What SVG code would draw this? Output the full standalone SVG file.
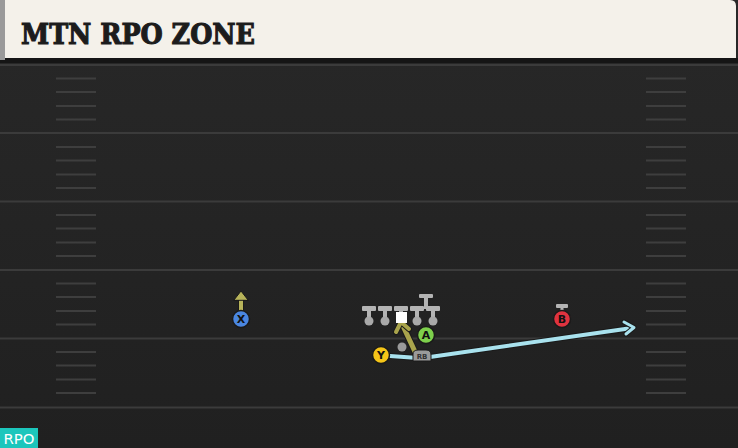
<svg xmlns="http://www.w3.org/2000/svg" width="738" height="448" viewBox="0 0 738 448">
<defs>
<style>
.yl{stroke:#3b3b3b;stroke-width:2}
.hs{stroke:#3e3e3e;stroke-width:2}
.ol{fill:#b4b4b4}
.lc{fill:#a9a9a9}
.lbl{font-family:"DejaVu Sans",sans-serif;font-weight:bold;font-size:11px;text-anchor:middle;fill:#111}
</style>
<linearGradient id="fld" x1="0" y1="0" x2="0" y2="1">
<stop offset="0" stop-color="#282828"/>
<stop offset="1" stop-color="#202020"/>
</linearGradient>
<g id="hashset">
<line class="hs" x1="0" y1="13.5" x2="40" y2="13.5"/>
<line class="hs" x1="0" y1="27" x2="40" y2="27"/>
<line class="hs" x1="0" y1="41" x2="40" y2="41"/>
<line class="hs" x1="0" y1="54.5" x2="40" y2="54.5"/>
</g>
</defs>
<rect width="738" height="448" fill="url(#fld)"/>
<g id="field">
<line class="yl" x1="0" y1="65" x2="738" y2="65"/>
<line class="yl" x1="0" y1="133" x2="738" y2="133"/>
<line class="yl" x1="0" y1="201.5" x2="738" y2="201.5"/>
<line class="yl" x1="0" y1="270" x2="738" y2="270"/>
<line class="yl" x1="0" y1="338.5" x2="738" y2="338.5"/>
<line class="yl" x1="0" y1="407.5" x2="738" y2="407.5"/>
<use href="#hashset" x="56" y="65"/><use href="#hashset" x="56" y="133.5"/><use href="#hashset" x="56" y="201.5"/><use href="#hashset" x="56" y="270"/><use href="#hashset" x="56" y="338.5"/>
<use href="#hashset" x="646" y="65"/><use href="#hashset" x="646" y="133.5"/><use href="#hashset" x="646" y="201.5"/><use href="#hashset" x="646" y="270"/><use href="#hashset" x="646" y="338.5"/>
</g>
<g id="header">
<rect x="0" y="58" width="738" height="5" fill="#151515"/>
<path d="M0 0H730Q736 0 736 6V58H0Z" fill="#f4f1ea"/>
<rect x="0" y="0" width="5" height="60" fill="#9a9a9a"/>
<text x="21" y="44" font-family="'DejaVu Serif',serif" font-weight="bold" font-size="27" textLength="234" lengthAdjust="spacingAndGlyphs" fill="#1c1c1c" stroke="#1c1c1c" stroke-width="1.1">MTN RPO ZONE</text>
</g>
<g id="connectors" fill="none" stroke-linecap="round" stroke-linejoin="round">
<path d="M390 356L418 358M430 357L632 328" stroke="#1a1a1a" stroke-width="6"/>
<path d="M390 356L418 358M430 357L632 328" stroke="#a9e2ee" stroke-width="4"/>
<path d="M624 322L634 327.5L626 334" stroke="#1a1a1a" stroke-width="5"/>
<path d="M624 322L634 327.5L626 334" stroke="#a9e2ee" stroke-width="3"/>
<line x1="417" y1="356" x2="403" y2="326" stroke="#1a1a1a" stroke-width="7"/>
<line x1="417" y1="356" x2="403" y2="326" stroke="#a9a44c" stroke-width="5"/>
<path d="M396 332L401 322L409 329" stroke="#1a1a1a" stroke-width="6"/>
<path d="M396 332L401 322L409 329" stroke="#a9a44c" stroke-width="4"/>
<line x1="241" y1="312" x2="241" y2="296" stroke="#1a1a1a" stroke-width="6"/>
<line x1="241" y1="312" x2="241" y2="296" stroke="#b7b35a" stroke-width="4"/>
<path d="M234 300L241 291L248 300Z" fill="#b7b35a" stroke="#1a1a1a" stroke-width="1"/>
</g>
<g id="ol">
<g id="lt"><rect class="ol" x="362" y="306" width="14" height="5" rx="1"/><rect class="ol" x="367" y="310" width="4" height="8"/><circle class="lc" cx="369" cy="321" r="4.5"/></g>
<g id="lg"><rect class="ol" x="378" y="306" width="14" height="5" rx="1"/><rect class="ol" x="383" y="310" width="4" height="8"/><circle class="lc" cx="385" cy="321" r="4.5"/></g>
<g id="c"><rect class="ol" x="394" y="306" width="14" height="5" rx="1"/><rect class="ol" x="399" y="310" width="4" height="4"/><rect x="396" y="312" width="11" height="11" fill="#ffffff"/></g>
<g id="rg"><rect class="ol" x="410" y="306" width="14" height="5" rx="1"/><rect class="ol" x="415" y="310" width="4" height="8"/><circle class="lc" cx="417" cy="321" r="4.5"/></g>
<g id="rt"><rect class="ol" x="426" y="306" width="14" height="5" rx="1"/><rect class="ol" x="431" y="310" width="4" height="8"/><circle class="lc" cx="433" cy="321" r="4.5"/></g>
<g id="blk"><rect class="ol" x="419" y="294" width="14" height="4" rx="1"/><rect class="ol" x="424" y="297" width="4" height="12"/></g>
</g>
<g id="qb"><circle cx="402" cy="347" r="4.5" fill="#9a9a9a"/></g>
<g id="rb"><path d="M413 361V354Q413 350 418 350H426Q431 350 431 355V361Z" fill="#9a9a9a" stroke="#1a1a1a" stroke-width="1"/><text x="422" y="359" font-family="'DejaVu Sans',sans-serif" font-size="7" font-weight="bold" text-anchor="middle" fill="#333">RB</text></g>
<g id="y"><circle cx="381" cy="355" r="8.5" fill="#f5c518" stroke="#1a1a1a" stroke-width="1.5"/><text class="lbl" x="381" y="359">Y</text></g>
<g id="a"><circle cx="426" cy="335" r="8.5" fill="#7ed04c" stroke="#1a1a1a" stroke-width="1.5"/><text class="lbl" x="426" y="339">A</text></g>
<g id="x"><circle cx="241" cy="319" r="8.5" fill="#4a86e0" stroke="#1a1a1a" stroke-width="1.5"/><text class="lbl" x="241" y="323">X</text></g>
<g id="b"><rect class="ol" x="556" y="304" width="12" height="4" rx="1"/><rect class="ol" x="560.5" y="307" width="3" height="4"/><circle cx="562" cy="319" r="8.5" fill="#e0333f" stroke="#1a1a1a" stroke-width="1.5"/><text class="lbl" x="562" y="323">B</text></g>
<g id="tag"><rect x="0" y="428" width="38" height="20" fill="#1cc6bc"/><text x="19" y="444" font-family="'DejaVu Sans',sans-serif" font-size="14" textLength="31" lengthAdjust="spacingAndGlyphs" text-anchor="middle" fill="#ffffff">RPO</text></g>
</svg>
